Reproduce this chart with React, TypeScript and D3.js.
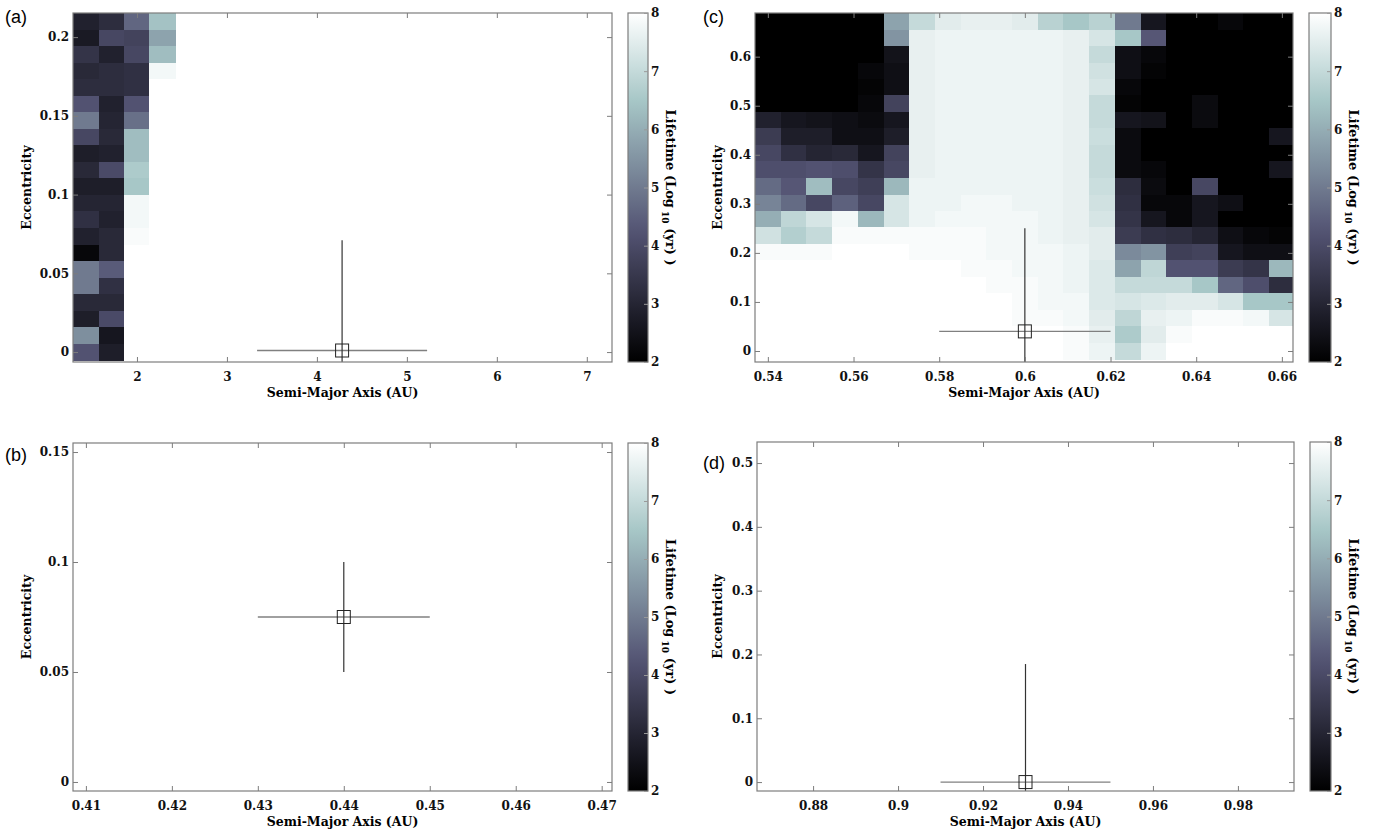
import React, { useEffect, useRef } from 'react';
import * as d3 from 'd3';

// ---- panel (a): lifetime grid, only the non-white columns (rest is 8) ----
const smaA = [1.43, 1.72, 2.0, 2.28];
const eccA = [0.21, 0.1995, 0.189, 0.1785, 0.168, 0.1575, 0.147, 0.1365, 0.126, 0.1155, 0.105,
    0.0945, 0.084, 0.0735, 0.063, 0.0525, 0.042, 0.0315, 0.021, 0.0105, 0];
const lifeA = [
    [2.9, 3.2, 4.6, 6.4],
    [2.7, 3.9, 3.8, 5.8],
    [3.4, 2.9, 3.9, 6.3],
    [3.1, 3.2, 3.3, 7.8],
    [3.2, 3.2, 3.3, 8],
    [4.2, 2.9, 4.2, 8],
    [5.0, 3.0, 4.8, 8],
    [3.9, 3.1, 6.3, 8],
    [2.8, 2.9, 6.3, 8],
    [3.1, 4.0, 6.6, 8],
    [2.8, 2.8, 6.5, 8],
    [3.0, 3.0, 7.8, 8],
    [3.3, 2.9, 7.8, 8],
    [2.9, 3.1, 7.9, 8],
    [2.2, 3.1, 8, 8],
    [5.0, 4.4, 8, 8],
    [5.0, 3.3, 8, 8],
    [3.1, 3.1, 8, 8],
    [2.8, 4.0, 8, 8],
    [5.4, 2.6, 8, 8],
    [4.2, 2.8, 8, 8],
];

// ---- panel (c): full lifetime grid ----
const smaC = [0.540, 0.546, 0.552, 0.558, 0.564, 0.570, 0.576, 0.582, 0.588, 0.594, 0.600,
    0.606, 0.612, 0.618, 0.624, 0.630, 0.636, 0.642, 0.648, 0.654, 0.660];
const eccC = [0.672, 0.638, 0.605, 0.571, 0.538, 0.504, 0.470, 0.437, 0.403, 0.370, 0.336,
    0.302, 0.269, 0.235, 0.202, 0.168, 0.134, 0.101, 0.067, 0.034, 0.000];
const lifeC = [
    [2, 2, 2, 2, 2, 5.8, 7.0, 7.5, 7.6, 7.6, 7.5, 6.8, 6.5, 6.8, 5.0, 2.6, 2, 2, 2.2, 2, 2],
    [2, 2, 2, 2, 2, 5.5, 7.6, 7.7, 7.7, 7.7, 7.7, 7.7, 7.6, 7.3, 6.5, 4.3, 2, 2, 2, 2, 2],
    [2, 2, 2, 2, 2, 2.5, 7.6, 7.7, 7.7, 7.7, 7.7, 7.7, 7.6, 7.0, 2.4, 2.2, 2, 2, 2, 2, 2],
    [2, 2, 2, 2, 2.2, 2.4, 7.6, 7.7, 7.7, 7.7, 7.7, 7.7, 7.6, 7.2, 2.4, 2.1, 2, 2, 2, 2, 2],
    [2, 2, 2, 2, 2.1, 2.4, 7.6, 7.7, 7.7, 7.7, 7.7, 7.7, 7.6, 7.3, 2.2, 2, 2, 2, 2, 2, 2],
    [2, 2, 2, 2, 2.2, 3.8, 7.6, 7.7, 7.7, 7.7, 7.7, 7.7, 7.6, 7.0, 2.1, 2, 2, 2.3, 2, 2, 2],
    [2.9, 2.6, 2.5, 2.4, 2.3, 2.6, 7.6, 7.7, 7.7, 7.7, 7.7, 7.7, 7.6, 7.0, 2.6, 2.5, 2, 2.3, 2, 2, 2],
    [3.6, 2.8, 2.8, 2.4, 2.4, 2.8, 7.6, 7.7, 7.7, 7.7, 7.7, 7.7, 7.6, 7.1, 2.3, 2, 2, 2, 2, 2, 2.6],
    [3.9, 3.3, 3.0, 3.1, 2.6, 3.8, 7.6, 7.7, 7.7, 7.7, 7.7, 7.7, 7.6, 7.0, 2.3, 2, 2, 2, 2, 2, 2],
    [4.1, 4.1, 4.2, 4.1, 3.4, 3.9, 7.6, 7.7, 7.7, 7.7, 7.7, 7.7, 7.6, 7.0, 2.3, 2.2, 2, 2, 2, 2, 2.6],
    [4.7, 4.3, 6.3, 3.9, 3.7, 6.2, 7.7, 7.7, 7.7, 7.7, 7.7, 7.7, 7.6, 7.1, 3.2, 2.3, 2, 3.9, 2, 2, 2],
    [5.2, 4.7, 3.9, 4.5, 3.9, 7.3, 7.7, 7.7, 7.8, 7.8, 7.7, 7.7, 7.6, 7.2, 3.3, 2.2, 2.2, 2.6, 2.4, 2, 2],
    [6.0, 6.9, 7.3, 7.8, 6.2, 7.3, 7.7, 7.8, 7.8, 7.8, 7.8, 7.7, 7.6, 7.3, 3.4, 2.6, 2.2, 2.6, 2.0, 2, 2],
    [7.2, 6.7, 7.0, 7.9, 7.9, 7.9, 7.9, 7.9, 7.9, 7.8, 7.8, 7.7, 7.6, 7.5, 3.6, 3.3, 3.2, 3.0, 2.4, 2.2, 2.1],
    [7.9, 7.9, 7.9, 8, 8, 8, 7.9, 7.9, 7.9, 7.8, 7.8, 7.8, 7.7, 7.5, 5.3, 5.5, 3.7, 3.8, 2.6, 2.4, 2.4],
    [8, 8, 8, 8, 8, 8, 8, 8, 7.9, 7.9, 7.8, 7.8, 7.7, 7.4, 5.8, 6.9, 4.2, 4.2, 3.6, 3.4, 6.2],
    [8, 8, 8, 8, 8, 8, 8, 8, 8, 7.9, 7.9, 7.8, 7.7, 7.4, 7.0, 7.0, 7.0, 6.5, 4.6, 4.1, 3.2],
    [8, 8, 8, 8, 8, 8, 8, 8, 8, 8, 7.9, 7.8, 7.8, 7.4, 7.3, 7.4, 7.5, 7.5, 7.3, 6.5, 6.5],
    [8, 8, 8, 8, 8, 8, 8, 8, 8, 8, 7.9, 7.9, 7.8, 7.5, 6.9, 7.6, 7.7, 7.9, 7.9, 7.8, 7.3],
    [8, 8, 8, 8, 8, 8, 8, 8, 8, 8, 8, 8, 7.9, 7.6, 6.6, 7.5, 7.9, 8, 8, 8, 8],
    [8, 8, 8, 8, 8, 8, 8, 8, 8, 8, 8, 8, 7.9, 7.7, 7.0, 7.7, 8, 8, 8, 8, 8],
];

// observed planet and its error bars, panels a, b, c, d
const planetSma = [4.28, 0.44, 0.60, 0.93];
const planetEcc = [0.001, 0.075, 0.04, 0.0];
const smaErr = [0.945, 0.01, 0.02, 0.02];
const eccErr = [0.07, 0.025, 0.21, 0.185];

// tick labels
const xTicksA = ['2', '3', '4', '5', '6', '7'];
const yTicksA = ['0', '0.05', '0.1', '0.15', '0.2'];
const xTicksB = ['0.41', '0.42', '0.43', '0.44', '0.45', '0.46', '0.47'];
const yTicksB = ['0', '0.05', '0.1', '0.15'];
const xTicksC = ['0.54', '0.56', '0.58', '0.6', '0.62', '0.64', '0.66'];
const yTicksC = ['0', '0.1', '0.2', '0.3', '0.4', '0.5', '0.6'];
const xTicksD = ['0.88', '0.9', '0.92', '0.94', '0.96', '0.98'];
const yTicksD = ['0', '0.1', '0.2', '0.3', '0.4', '0.5'];
const cbarTicks = ['2', '3', '4', '5', '6', '7', '8'];

const SERIF = "'DejaVu Serif', 'Liberation Serif', serif";
const FRAME = '#7d7d7d';

// MATLAB "bone" colormap
const bone = (t: number) => {
    const hr = Math.min(1, t / 0.375);
    const hg = Math.max(0, Math.min(1, (t - 0.375) / 0.375));
    const hb = Math.max(0, (t - 0.75) / 0.25);
    return d3.rgb(255 * (7 * t + hb) / 8, 255 * (7 * t + hg) / 8, 255 * (7 * t + hr) / 8).toString();
};

const panels = [
    { id: 'a', label: '(a)', lx: 5, ly: 23, left: 73, right: 612, top: 13, bottom: 362, xDom: [1.289, 7.28], yDom: [-0.0063, 0.2153],
        xT: xTicksA, yT: yTicksA, cbX: 628, cbW: 20, heat: { sma: smaA, ecc: eccA, life: lifeA, dx: 0.2844, dy: 0.0106 } },
    { id: 'b', label: '(b)', lx: 5, ly: 461, left: 73, right: 612, top: 443, bottom: 791, xDom: [0.4085, 0.4712], yDom: [-0.0041, 0.1541],
        xT: xTicksB, yT: yTicksB, cbX: 628, cbW: 20, heat: null },
    { id: 'c', label: '(c)', lx: 703, ly: 23, left: 755, right: 1293, top: 13, bottom: 362, xDom: [0.537, 0.6626], yDom: [-0.0224, 0.689],
        xT: xTicksC, yT: yTicksC, cbX: 1309, cbW: 22, heat: { sma: smaC, ecc: eccC, life: lifeC, dx: 0.006, dy: 0.0337 } },
    { id: 'd', label: '(d)', lx: 703, ly: 469, left: 757, right: 1294, top: 442, bottom: 791, xDom: [0.8668, 0.9932], yDom: [-0.014, 0.533],
        xT: xTicksD, yT: yTicksD, cbX: 1310, cbW: 21, heat: null },
];

const App = () => {
    const svgRef = useRef<SVGSVGElement>(null);

    useEffect(() => {
        drawChart();
    }, []);

    const drawChart = () => {
        const svg = d3.select(svgRef.current);
        svg.selectAll('*').remove();

        const color = d3.scaleSequential((t: number) => bone(t)).domain([2, 8]);

        const defs = svg.append('defs');
        const grad = defs.append('linearGradient').attr('id', 'bonegrad')
            .attr('x1', 0).attr('y1', 1).attr('x2', 0).attr('y2', 0);
        d3.range(0, 1.0001, 0.05).forEach(t => {
            grad.append('stop').attr('offset', t).attr('stop-color', bone(t));
        });

        panels.forEach((p, pi) => {
            const x = d3.scaleLinear().domain(p.xDom).range([p.left, p.right]);
            const y = d3.scaleLinear().domain(p.yDom).range([p.bottom, p.top]);
            const g = svg.append('g');

            defs.append('clipPath').attr('id', `clip-${p.id}`)
                .append('rect').attr('x', p.left).attr('y', p.top)
                .attr('width', p.right - p.left).attr('height', p.bottom - p.top);

            const plot = g.append('g').attr('clip-path', `url(#clip-${p.id})`);

            // heatmap cells
            if (p.heat) {
                const h = p.heat;
                const cells = plot.append('g').attr('shape-rendering', 'crispEdges');
                h.life.forEach((row, i) => {
                    row.forEach((v, j) => {
                        const x0 = Math.round(x(h.sma[j] - h.dx / 2));
                        const x1 = Math.round(x(h.sma[j] + h.dx / 2));
                        const y0 = Math.round(y(h.ecc[i] + h.dy / 2));
                        const y1 = Math.round(y(h.ecc[i] - h.dy / 2));
                        cells.append('rect')
                            .attr('x', x0).attr('y', y0)
                            .attr('width', x1 - x0 + 1).attr('height', y1 - y0 + 1)
                            .attr('fill', color(v));
                    });
                });
            }

            // error bars and marker
            const a = planetSma[pi], e = planetEcc[pi];
            plot.append('line')
                .attr('x1', x(a - smaErr[pi])).attr('x2', x(a + smaErr[pi]))
                .attr('y1', y(e)).attr('y2', y(e))
                .attr('stroke', '#808080').attr('stroke-width', 1.3);
            plot.append('line')
                .attr('x1', x(a)).attr('x2', x(a))
                .attr('y1', y(e - eccErr[pi])).attr('y2', y(e + eccErr[pi]))
                .attr('stroke', '#333').attr('stroke-width', 1.2);
            plot.append('rect')
                .attr('x', x(a) - 6.5).attr('y', y(e) - 6.5)
                .attr('width', 13).attr('height', 13)
                .attr('fill', 'none').attr('stroke', '#222').attr('stroke-width', 1);

            // axes, ticks inward on all sides
            const xVals = p.xT.map(Number);
            const yVals = p.yT.map(Number);
            const styleAxis = (ax: any) => {
                ax.select('.domain').remove();
                ax.selectAll('line').attr('stroke', FRAME);
                ax.attr('font-family', SERIF).attr('font-size', 12).attr('font-weight', 'bold').attr('color', '#111');
            };
            const bx = g.append('g').attr('transform', `translate(0,${p.bottom})`)
                .call(d3.axisBottom(x).tickValues(xVals).tickFormat((d, i) => p.xT[i]).tickSize(-5).tickSizeOuter(0).tickPadding(10));
            styleAxis(bx);
            const tx = g.append('g').attr('transform', `translate(0,${p.top})`)
                .call(d3.axisTop(x).tickValues(xVals).tickFormat(() => '').tickSize(-5).tickSizeOuter(0));
            styleAxis(tx);
            const ly = g.append('g').attr('transform', `translate(${p.left},0)`)
                .call(d3.axisLeft(y).tickValues(yVals).tickFormat((d, i) => p.yT[i]).tickSize(-5).tickSizeOuter(0).tickPadding(4));
            styleAxis(ly);
            const ry = g.append('g').attr('transform', `translate(${p.right},0)`)
                .call(d3.axisRight(y).tickValues(yVals).tickFormat(() => '').tickSize(-5).tickSizeOuter(0));
            styleAxis(ry);

            g.append('rect')
                .attr('x', p.left).attr('y', p.top)
                .attr('width', p.right - p.left).attr('height', p.bottom - p.top)
                .attr('fill', 'none').attr('stroke', FRAME).attr('stroke-width', 1.2);

            // axis titles
            g.append('text')
                .attr('x', (p.left + p.right) / 2).attr('y', p.bottom + 35)
                .attr('text-anchor', 'middle')
                .attr('font-family', SERIF).attr('font-size', 12.5).attr('font-weight', 'bold')
                .text('Semi-Major Axis (AU)');
            const yTitleX = p.id === 'a' || p.id === 'b' ? 31 : 722;
            g.append('text')
                .attr('transform', `translate(${yTitleX},${(p.top + p.bottom) / 2}) rotate(-90)`)
                .attr('text-anchor', 'middle')
                .attr('font-family', SERIF).attr('font-size', 12.5).attr('font-weight', 'bold')
                .text('Eccentricity');

            // panel label
            g.append('text')
                .attr('x', p.lx).attr('y', p.ly)
                .attr('font-family', "'Liberation Sans', Arial, sans-serif").attr('font-size', 18)
                .text(p.label);

            // colorbar
            const cy = d3.scaleLinear().domain([2, 8]).range([p.bottom, p.top]);
            g.append('rect')
                .attr('x', p.cbX).attr('y', p.top)
                .attr('width', p.cbW).attr('height', p.bottom - p.top)
                .attr('fill', 'url(#bonegrad)').attr('stroke', FRAME).attr('stroke-width', 1.2);
            const cb = g.append('g').attr('transform', `translate(${p.cbX + p.cbW},0)`)
                .call(d3.axisRight(cy).tickValues(cbarTicks.map(Number)).tickFormat((d, i) => cbarTicks[i]).tickSize(-4).tickSizeOuter(0).tickPadding(3));
            styleAxis(cb);
            cb.selectAll('line').attr('stroke', '#999');

            const lbl = g.append('text')
                .attr('transform', `translate(${p.cbX + p.cbW + 18},${(p.top + p.bottom) / 2}) rotate(90)`)
                .attr('text-anchor', 'middle')
                .attr('font-family', SERIF).attr('font-size', 13).attr('font-weight', 'bold');
            lbl.append('tspan').text('Lifetime (Log');
            lbl.append('tspan').attr('dy', 4).attr('font-size', 9).text(' 10');
            lbl.append('tspan').attr('dy', -4).text(' (yr) )');
        });
    };

    return <svg ref={svgRef} width={1375} height={840}
        style={{ position: 'absolute', left: 0, top: 0, background: '#fff' }}></svg>;
};

export default App;
